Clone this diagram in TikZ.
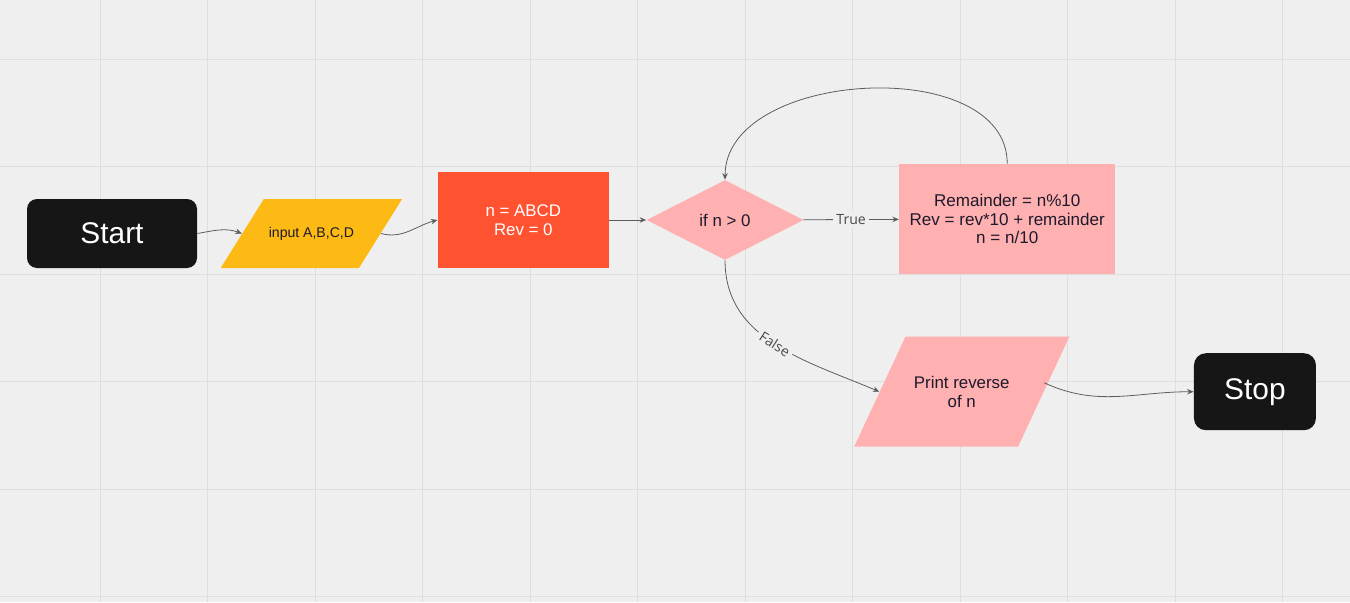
\documentclass[tikz,border=0pt]{standalone}
\usepackage{fontspec}
\setmainfont{Liberation Sans}
\newfontfamily\labelfont{Open Sans}
\usetikzlibrary{arrows.meta,positioning,shapes.geometric}
\definecolor{Canvas}{HTML}{EFEFEF}
\definecolor{GridLine}{HTML}{DEDEDE}
\definecolor{Ink}{HTML}{161616}
\definecolor{Amber}{HTML}{FDBA14}
\definecolor{Vermil}{HTML}{FF5231}
\definecolor{Blush}{HTML}{FFB0B1}
\definecolor{Wire}{HTML}{5C5C5C}
\definecolor{DarkText}{HTML}{1D1A2B}

\begin{document}
\begin{tikzpicture}[
  every node/.style={font=\fontsize{9.6}{10.6}\selectfont,align=center,text=DarkText},
  term/.style={rectangle,rounded corners=2.2mm,fill=Ink,text=white,
    font=\fontsize{17}{20}\selectfont},
  iobox/.style={trapezium,trapezium stretches body=true},
  procbox/.style={rectangle,inner sep=0pt},
  decide/.style={diamond,fill=Blush,inner sep=0pt,
    minimum width=31.4mm,minimum height=16mm},
  arrow/.style={-{Stealth[length=1.3mm,width=1.1mm]},draw=Wire,line width=0.45pt},
  lbl/.style={fill=Canvas,text=Wire!80!black,inner sep=2pt,
    font=\labelfont\fontsize{8}{9}\selectfont}
]
\useasboundingbox (0,0) rectangle (27,-12.04);
\fill[Canvas] (0,0) rectangle (27,-12.04);
% grid
\foreach \gx in {0,...,11}
  \draw[GridLine,line width=0.5pt] (2+2.15*\gx,0) -- ++(0,-12.04);
\foreach \gy in {0,...,5}
  \draw[GridLine,line width=0.5pt] (0,-1.18-2.15*\gy) -- ++(27,0);

\node[term,minimum width=34mm,minimum height=13.8mm,rounded corners=2mm] (start) at (2.24,-4.67) {Start};
\node[iobox,fill=Amber,inner xsep=1mm,text height=2mm,text depth=0.6mm,inner ysep=5.6mm,
  trapezium left angle=58,trapezium right angle=122,
  font=\fontsize{8}{9}\selectfont,right=8.9mm of start] (inp) {input A,B,C,D};
\node[procbox,fill=Vermil,text=white,minimum width=34.2mm,minimum height=19.2mm,
  right=11.3mm of inp,yshift=2.7mm] (init) {n = ABCD\\Rev = 0};
\node[decide,right=7.4mm of init] (cond) {if n > 0};
\node[procbox,fill=Blush,minimum width=43.2mm,minimum height=22mm,
  right=19mm of cond,yshift=0.2mm,font=\fontsize{9.7}{10.5}\selectfont] (rem)
  {Remainder = n\%10\\Rev = rev*10 + remainder\\n = n/10};
\node[iobox,fill=Blush,inner xsep=1.7mm,inner ysep=7.9mm,
  trapezium left angle=65,trapezium right angle=115,
  below=12.4mm of rem,xshift=-9.1mm] (prt) {Print reverse\\of n};
\node[term,minimum width=24.4mm,minimum height=15.4mm,rounded corners=2.4mm,
  right=29.9mm of prt] (stop) {Stop};

\draw[arrow] (start.east) to[out=10,in=160] (inp.west);
\draw[arrow] (inp.east) to[out=-15,in=195] (init.west);
\draw[arrow] (init) -- (cond);
\draw[arrow] (cond) -- node[lbl] {True} (rem);
\draw[arrow] (rem.north) to[out=90,in=90] (cond.north);
\draw[arrow] (cond.south) to[out=-90,in=157] node[lbl,sloped] {False} (prt.west);
\draw[arrow] ([yshift=1.8mm]prt.east) to[out=-25,in=180] (stop.west);
\end{tikzpicture}
\end{document}
